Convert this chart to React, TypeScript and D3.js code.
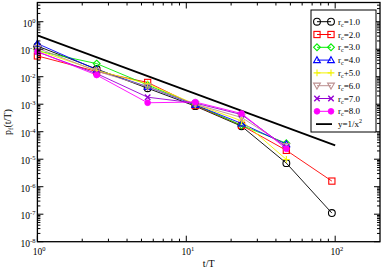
import React from "react";
import * as d3 from "d3";

const tValues = [1, 2.5, 5.5, 11.5, 23.5, 47, 95];
const rc1 = [0.13, 0.019, 0.0038, 0.00085, 0.000158, 7.2e-6, 1.1e-7];
const rc2 = [0.057, 0.0155, 0.0062, 0.0009, 0.00017, 2.1e-5, 1.6e-6];
const rc3 = [0.087, 0.03, 0.005, 0.00095, 0.00017, 3.8e-5];
const rc4 = [0.16, 0.018, 0.0043, 0.00095, 0.0002, 3.5e-5];
const rc5 = [0.09, 0.017, 0.0055, 0.001, 0.00025, 9.8e-6];
const rc6 = [0.11, 0.016, 0.0043, 0.001, 0.00033, 3e-5];
const rc7 = [0.08, 0.013, 0.0018, 0.0011, 0.00042, 2.7e-5];
const rc8 = [0.082, 0.0115, 0.00113, 0.0012, 0.00046, 2.4e-5];
const seriesLabels = ["=1.0", "=2.0", "=3.0", "=4.0", "+5.0", "=6.0", "=7.0", "=8.0"];
const seriesColors = ["#000000", "#ff0000", "#00ee00", "#0000ff", "#f2f200", "#bc8f8f", "#9400d3", "#ff00ff"];
const seriesMarkers = ["circle", "square", "diamond", "triUp", "plus", "triDown", "cross", "dot"];
const seriesData = [rc1, rc2, rc3, rc4, rc5, rc6, rc7, rc8];
const refCoef = 0.32;
const refX = [1, 100];
const xTickExps = [0, 1, 2];
const yTickExps = [0, -1, -2, -3, -4, -5, -6, -7, -8];

const W = 382, H = 269;
const L = 37.4, R = 380, T = 2.5, B = 241.7;
const FONT = "'Liberation Serif', 'Times New Roman', serif";

function Marker({ type, x, y, color }: { type: string; x: number; y: number; color: string }) {
  const s = 3.4;
  const common = { fill: "none", stroke: color, strokeWidth: 1.1 };
  switch (type) {
    case "circle":
      return <circle cx={x} cy={y} r={s} {...common} />;
    case "square":
      return <rect x={x - s + 0.3} y={y - s + 0.3} width={2 * s - 0.6} height={2 * s - 0.6} {...common} />;
    case "diamond":
      return <path d={`M${x},${y - s}L${x + s},${y}L${x},${y + s}L${x - s},${y}Z`} {...common} />;
    case "triUp":
      return <path d={`M${x},${y - s}L${x + s},${y + s * 0.75}L${x - s},${y + s * 0.75}Z`} {...common} />;
    case "triDown":
      return <path d={`M${x},${y + s}L${x + s},${y - s * 0.75}L${x - s},${y - s * 0.75}Z`} {...common} />;
    case "plus":
      return <path d={`M${x - s},${y}H${x + s}M${x},${y - s}V${y + s}`} {...common} />;
    case "cross":
      return <path d={`M${x - s * 0.8},${y - s * 0.8}L${x + s * 0.8},${y + s * 0.8}M${x - s * 0.8},${y + s * 0.8}L${x + s * 0.8},${y - s * 0.8}`} {...common} strokeWidth={1.4} />;
    case "dot":
      return <circle cx={x} cy={y} r={s * 0.85} fill={color} stroke={color} strokeWidth={0.8} />;
    default:
      return null;
  }
}

export default function App() {
  const x = d3.scaleLog().domain([1, 200]).range([L, R]);
  const y = d3.scaleLog().domain([1e-8, 5]).range([B, T]);
  const line = d3.line<[number, number]>().x((d) => x(d[0])).y((d) => y(d[1]));

  const xMinor: number[] = [];
  for (let e = 0; e <= 2; e++) for (let k = 2; k <= 9; k++) { const v = k * Math.pow(10, e); if (v < 200) xMinor.push(v); }
  const yMinor: number[] = [];
  for (let e = -8; e <= 0; e++) for (let k = 2; k <= 9; k++) { const v = k * Math.pow(10, e); if (v < 5) yMinor.push(v); }

  const refData: [number, number][] = refX.map((t) => [t, refCoef / (t * t)]);

  return (
    <svg width={W} height={H} style={{ position: "absolute", left: 0, top: 0, background: "#fff" }} fontFamily={FONT}>
      <rect x={0} y={0} width={W} height={H} fill="#fff" />
      {/* reference line */}
      <path d={line(refData) || ""} fill="none" stroke="#000" strokeWidth={1.8} />
      {/* series */}
      {seriesData.map((vals, i) => {
        const pts: [number, number][] = vals.map((v, j) => [tValues[j], v]);
        return (
          <g key={i}>
            <path d={line(pts) || ""} fill="none" stroke={seriesColors[i]} strokeWidth={0.9} />
            {pts.map((p, j) => (
              <Marker key={j} type={seriesMarkers[i]} x={x(p[0])} y={y(p[1])} color={seriesColors[i]} />
            ))}
          </g>
        );
      })}
      {/* frame */}
      <rect x={L} y={T} width={R - L} height={B - T} fill="none" stroke="#000" strokeWidth={1.3} />
      {/* x ticks */}
      {xTickExps.map((e) => {
        const px = x(Math.pow(10, e));
        return (
          <g key={"xt" + e}>
            <line x1={px} x2={px} y1={B} y2={B - 6} stroke="#000" strokeWidth={1} />
            <line x1={px} x2={px} y1={T} y2={T + 6} stroke="#000" strokeWidth={1} />
            <text x={px - 4.75} y={255} fontSize={9.5}>
              10<tspan dy={-4} fontSize={6.5}>{e}</tspan>
            </text>
          </g>
        );
      })}
      {xMinor.map((v, i) => (
        <g key={"xm" + i}>
          <line x1={x(v)} x2={x(v)} y1={B} y2={B - 3} stroke="#000" strokeWidth={1} />
          <line x1={x(v)} x2={x(v)} y1={T} y2={T + 3} stroke="#000" strokeWidth={1} />
        </g>
      ))}
      {/* y ticks */}
      {yTickExps.map((e) => {
        const py = y(Math.pow(10, e));
        return (
          <g key={"yt" + e}>
            <line x1={L} x2={L + 6} y1={py} y2={py} stroke="#000" strokeWidth={1} />
            <line x1={R} x2={R - 6} y1={py} y2={py} stroke="#000" strokeWidth={1} />
            <text x={35.5} y={py + 5} fontSize={9.5} textAnchor="end">
              10<tspan dy={-4} fontSize={6.5}>{e}</tspan>
            </text>
          </g>
        );
      })}
      {yMinor.map((v, i) => (
        <g key={"ym" + i}>
          <line x1={L} x2={L + 3} y1={y(v)} y2={y(v)} stroke="#000" strokeWidth={1} />
          <line x1={R} x2={R - 3} y1={y(v)} y2={y(v)} stroke="#000" strokeWidth={1} />
        </g>
      ))}
      {/* axis labels */}
      <text x={(L + R) / 2} y={267} fontSize={10} textAnchor="middle">t/T</text>
      <text transform={`translate(10.5,${(T + B) / 2}) rotate(-90)`} fontSize={10} textAnchor="middle">
        p<tspan dy={2} fontSize={7}>f</tspan><tspan dy={-2}>(t/T)</tspan>
      </text>
      {/* legend */}
      <rect x={311} y={10} width={65} height={122} fill="#fff" stroke="#000" strokeWidth={1} />
      {seriesData.map((_, i) => {
        const cy = 21.7 + i * 12.8;
        return (
          <g key={"lg" + i}>
            <line x1={317} x2={331} y1={cy} y2={cy} stroke={seriesColors[i]} strokeWidth={1} />
            <Marker type={seriesMarkers[i]} x={317} y={cy} color={seriesColors[i]} />
            <Marker type={seriesMarkers[i]} x={331} y={cy} color={seriesColors[i]} />
            <text x={338} y={cy + 3} fontSize={9}>
              r<tspan dy={2} fontSize={6}>c</tspan><tspan dy={-2}>{seriesLabels[i]}</tspan>
            </text>
          </g>
        );
      })}
      {(() => {
        const cy = 21.7 + 8 * 12.8;
        return (
          <g>
            <line x1={316} x2={332} y1={cy} y2={cy} stroke="#000" strokeWidth={1.8} />
            <text x={338} y={cy + 3} fontSize={9}>
              y=1/x<tspan dy={-4} fontSize={6}>2</tspan>
            </text>
          </g>
        );
      })()}
    </svg>
  );
}
